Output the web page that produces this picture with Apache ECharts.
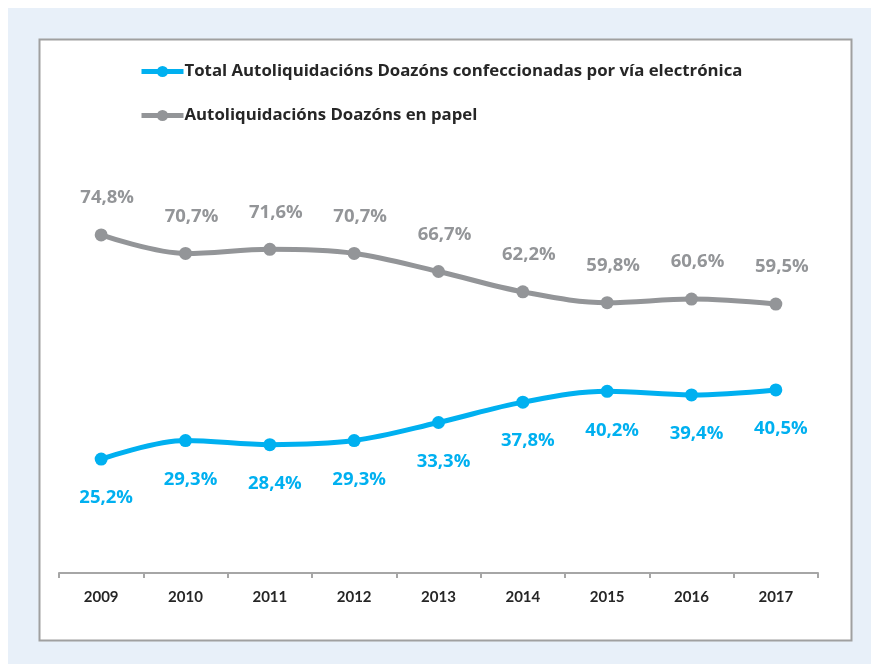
<!DOCTYPE html>
<html>
<head>
<meta charset="utf-8">
<script src="https://cdn.jsdelivr.net/npm/echarts@6/dist/echarts.min.js"></script>
<style>
  html, body { margin: 0; padding: 0; background: #fff; }
  #chart { width: 871px; height: 664px; }
</style>
</head>
<body>
<div id="chart"></div>
<script>
const years = ['2009', '2010', '2011', '2012', '2013', '2014', '2015', '2016', '2017'];
const electronicName = 'Total Autoliquidacións Doazóns confeccionadas por vía electrónica';
const paperName = 'Autoliquidacións Doazóns en papel';
const electronic = [25.2, 29.3, 28.4, 29.3, 33.3, 37.8, 40.2, 39.4, 40.5];
const paper = [74.8, 70.7, 71.6, 70.7, 66.7, 62.2, 59.8, 60.6, 59.5];

const colors = {
    blue: '#00b0f0',
    gray: '#939598',
    text: '#262626',
    axis: '#a6a6a6'
};
const font = 'Open Sans';

const fmt = p => p.value.toFixed(1).replace('.', ',') + '%';

const chart = echarts.init(document.getElementById('chart'));

chart.setOption({
    backgroundColor: '#fff',
    animation: false,
    graphic: [
        { type: 'rect', z: -10, shape: { x: 8, y: 8, width: 863, height: 656 }, style: { fill: '#e8f0f9' } },
        { type: 'rect', z: -9, shape: { x: 39.5, y: 39.5, width: 812, height: 601 }, style: { fill: '#fff', stroke: '#a0a0a0', lineWidth: 2 } }
    ],
    grid: { left: 59, right: 53, top: 121, bottom: 91 },
    legend: {
        orient: 'vertical',
        left: 134,
        top: 58,
        itemWidth: 42,
        itemHeight: 14,
        itemGap: 27,
        lineStyle: { width: 5 },
        textStyle: { color: colors.text, fontFamily: font, fontWeight: 'bold', fontSize: 16.8, padding: [0, 0, 0, -4] },
        data: [electronicName, paperName]
    },
    xAxis: {
        type: 'category',
        data: years,
        axisLine: { lineStyle: { color: colors.axis, width: 2 } },
        axisTick: { show: true, length: 5, lineStyle: { color: colors.axis, width: 2 } },
        axisLabel: { color: colors.text, fontFamily: 'Lato', fontWeight: 'bold', fontSize: 15, margin: 17 }
    },
    yAxis: {
        type: 'value',
        min: 0,
        max: 100,
        show: false,
        splitLine: { show: false }
    },
    series: [
        {
            name: electronicName,
            type: 'line',
            data: electronic,
            smooth: 0.35,
            symbol: 'circle',
            symbolSize: 13,
            lineStyle: { width: 5, color: colors.blue },
            itemStyle: { color: colors.blue },
            label: {
                show: true, position: 'bottom', distance: 23, offset: [5, 0], formatter: fmt,
                color: colors.blue, fontFamily: font, fontWeight: 'bold', fontSize: 18.5
            }
        },
        {
            name: paperName,
            type: 'line',
            data: paper,
            smooth: 0.35,
            symbol: 'circle',
            symbolSize: 13,
            lineStyle: { width: 5, color: colors.gray },
            itemStyle: { color: colors.gray },
            label: {
                show: true, position: 'top', distance: 21, offset: [6, 0], formatter: fmt,
                color: colors.gray, fontFamily: font, fontWeight: 'bold', fontSize: 18.5
            }
        }
    ]
});
window.addEventListener('resize', () => chart.resize());
</script>
</body>
</html>
